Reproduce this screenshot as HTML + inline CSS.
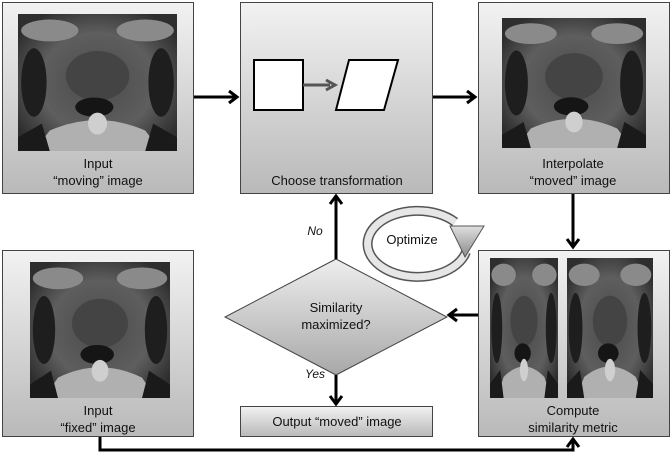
<!DOCTYPE html>
<html><head><meta charset="utf-8"><style>
html,body{margin:0;padding:0;background:#fff;}
svg{display:block;}
text{font-family:"Liberation Sans",sans-serif;fill:#111;}
</style></head><body>
<svg width="672" height="457" viewBox="0 0 672 457" xmlns="http://www.w3.org/2000/svg">
<defs>
<linearGradient id="bg" x1="0" y1="0" x2="0" y2="1">
<stop offset="0" stop-color="#f2f2f2"/><stop offset="1" stop-color="#b9b9b9"/></linearGradient>
<linearGradient id="dg" x1="0" y1="0" x2="0" y2="1">
<stop offset="0" stop-color="#eeeeee"/><stop offset="1" stop-color="#a8a8a8"/></linearGradient>
<linearGradient id="tri" x1="0" y1="0" x2="0" y2="1">
<stop offset="0" stop-color="#e0e0e0"/><stop offset="1" stop-color="#8a8a8a"/></linearGradient>
<radialGradient id="mri" cx="0.5" cy="0.5" r="0.6">
<stop offset="0" stop-color="#4a4a4a"/><stop offset="0.6" stop-color="#5e5e5e"/><stop offset="1" stop-color="#2e2e2e"/></radialGradient>
<g id="scan">
<rect x="0" y="0" width="100" height="100" fill="url(#mri)"/>
<ellipse cx="20" cy="12" rx="18" ry="8" fill="#8a8a8a"/>
<ellipse cx="80" cy="12" rx="18" ry="8" fill="#8a8a8a"/>
<ellipse cx="10" cy="50" rx="8" ry="25" fill="#1e1e1e"/>
<ellipse cx="90" cy="50" rx="8" ry="25" fill="#1e1e1e"/>
<ellipse cx="50" cy="45" rx="20" ry="18" fill="#444"/>
<ellipse cx="48" cy="68" rx="12" ry="7" fill="#151515"/>
<path d="M20 85 Q50 70 80 85 L90 100 L10 100Z" fill="#b0b0b0"/>
<ellipse cx="50" cy="80" rx="6" ry="8" fill="#cfcfcf"/>
<path d="M0 90 L15 80 L20 100 L0 100Z" fill="#1a1a1a"/>
<path d="M100 90 L85 80 L80 100 L100 100Z" fill="#1a1a1a"/>
</g>
</defs>

<rect x="2.5" y="2.5" width="191" height="191" fill="url(#bg)" stroke="#444" stroke-width="1"/>
<use href="#scan" transform="translate(18,14) scale(1.59,1.37)"/>
<text x="98" y="168" font-size="13" text-anchor="middle">Input</text>
<text x="98" y="185" font-size="13" text-anchor="middle">“moving” image</text>

<rect x="240.5" y="2.5" width="192" height="191" fill="url(#bg)" stroke="#444" stroke-width="1"/>
<rect x="254" y="60" width="49" height="50" fill="#fff" stroke="#000" stroke-width="2"/>
<line x1="303" y1="85" x2="330" y2="85" stroke="#555" stroke-width="3"/>
<path d="M326 80 L335 85 L326 90" fill="none" stroke="#555" stroke-width="3"/>
<path d="M349 60 L398 60 L384 110 L336 110Z" fill="#fff" stroke="#000" stroke-width="2"/>
<text x="337" y="185" font-size="13" text-anchor="middle">Choose transformation</text>

<rect x="478.5" y="2.5" width="191" height="191" fill="url(#bg)" stroke="#444" stroke-width="1"/>
<use href="#scan" transform="translate(502,18) scale(1.44,1.30)"/>
<text x="573" y="168" font-size="13" text-anchor="middle">Interpolate</text>
<text x="573" y="185" font-size="13" text-anchor="middle">“moved” image</text>

<rect x="2.5" y="250.5" width="191" height="186" fill="url(#bg)" stroke="#444" stroke-width="1"/>
<use href="#scan" transform="translate(30,262) scale(1.40,1.36)"/>
<text x="98" y="415" font-size="13" text-anchor="middle">Input</text>
<text x="98" y="432" font-size="13" text-anchor="middle">“fixed” image</text>

<rect x="478.5" y="250.5" width="191" height="186" fill="url(#bg)" stroke="#444" stroke-width="1"/>
<use href="#scan" transform="translate(490,258) scale(0.68,1.40)"/>
<use href="#scan" transform="translate(567,258) scale(0.86,1.40)"/>
<text x="573" y="415" font-size="13" text-anchor="middle">Compute</text>
<text x="573" y="432" font-size="13" text-anchor="middle">similarity metric</text>

<path d="M336 259 L447 317 L336 375 L225 317Z" fill="url(#dg)" stroke="#444" stroke-width="1"/>
<text x="336" y="312" font-size="13" text-anchor="middle">Similarity</text>
<text x="336" y="329" font-size="13" text-anchor="middle">maximized?</text>

<rect x="240.5" y="406.5" width="192" height="30" fill="url(#bg)" stroke="#444" stroke-width="1"/>
<text x="337" y="426" font-size="13" text-anchor="middle">Output “moved” image</text>

<g stroke="#000" stroke-width="3" fill="none">
<line x1="194" y1="97" x2="236" y2="97"/><path d="M229 91 L237 97 L229 103"/>
<line x1="433" y1="97" x2="474" y2="97"/><path d="M467 91 L475 97 L467 103"/>
<line x1="573" y1="194" x2="573" y2="246"/><path d="M567 239 L573 247 L579 239"/>
<line x1="478" y1="315" x2="450" y2="315"/><path d="M457 309 L449 315 L457 321"/>
<line x1="336" y1="259" x2="336" y2="197"/><path d="M330 204 L336 196 L342 204"/>
<line x1="336" y1="375" x2="336" y2="403"/><path d="M330 396 L336 404 L342 396"/>
<path d="M100 437 L100 450 L573 450 L573 441"/><path d="M567 447 L573 439 L579 447"/>
</g>
<text x="315" y="235" font-size="12" font-style="italic" text-anchor="middle">No</text>
<text x="315" y="378" font-size="12" font-style="italic" text-anchor="middle">Yes</text>

<path d="M455 222 A50 33 0 1 0 466 252" fill="none" stroke="#555" stroke-width="10"/>
<path d="M455 222 A50 33 0 1 0 466 252" fill="none" stroke="#e6e6e6" stroke-width="7"/>
<path d="M450 226 L484 226 L465 257Z" fill="url(#tri)" stroke="#555" stroke-width="1"/>
<text x="412" y="244" font-size="13" text-anchor="middle">Optimize</text>
</svg>
</body></html>
